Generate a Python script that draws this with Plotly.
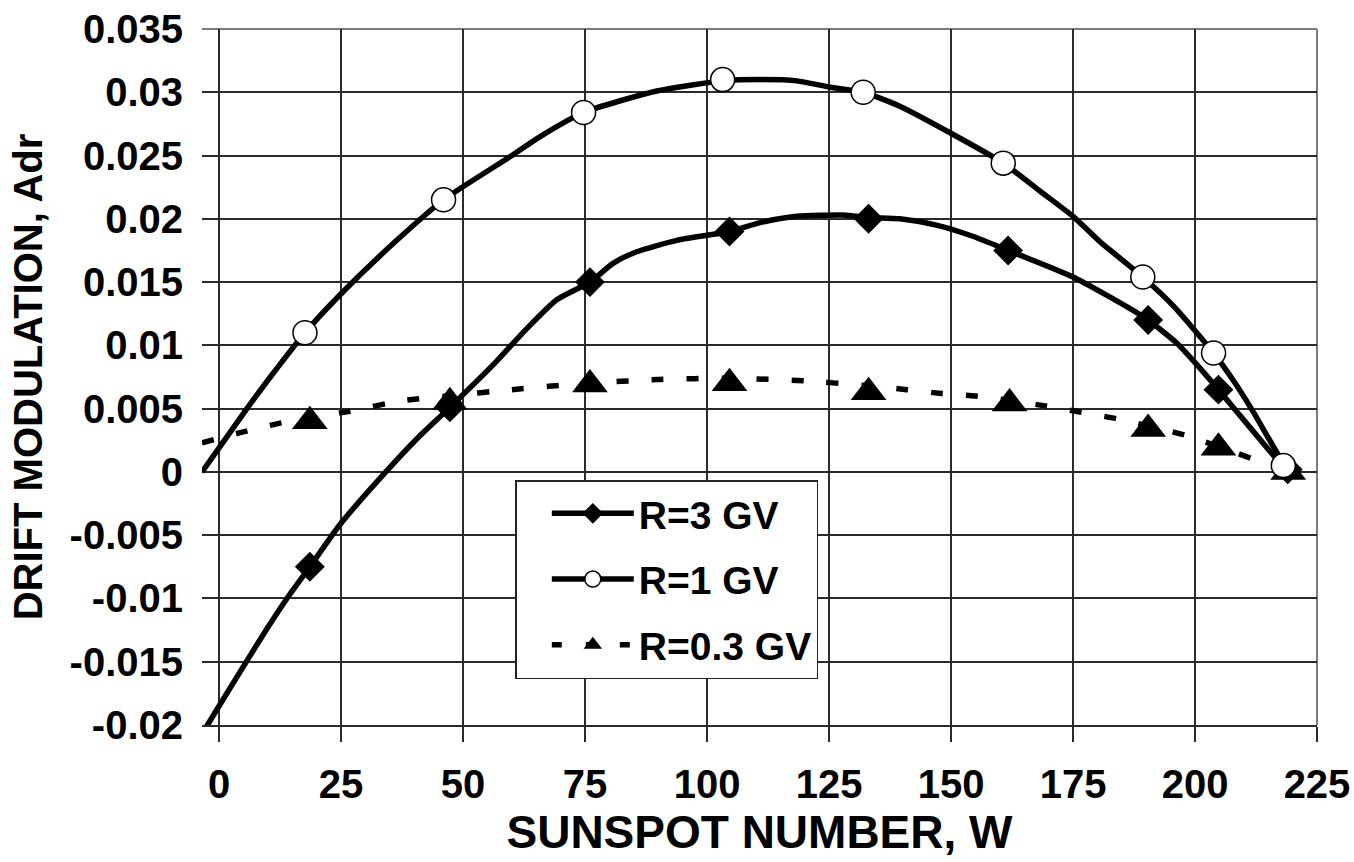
import plotly.graph_objects as go

# ---------------- data ----------------
# marker series
W_R3 = [18.6, 47.3, 76.0, 104.6, 133.1, 161.7, 190.4, 204.8, 219.0]
A_R3 = [-0.0075, 0.0051, 0.0150, 0.0190, 0.0200, 0.0175, 0.0120, 0.0065, 0.0002]

W_R1 = [17.6, 46.0, 74.7, 103.2, 132.0, 160.7, 189.3, 203.8, 218.1]
A_R1 = [0.0110, 0.0215, 0.0284, 0.0310, 0.0300, 0.0244, 0.0154, 0.0094, 0.0005]

W_R03 = [18.6, 47.3, 76.0, 104.6, 133.1, 162.0, 190.4, 204.8, 219.1]
A_R03 = [0.0040, 0.0055, 0.0069, 0.0070, 0.0063, 0.0054, 0.0034, 0.0019, 0.0000]

# curve series
CW_R3 = [-3.5, 0.0, 4.3, 9.8, 13.9, 18.6, 24.9, 33.7, 40.5, 47.3, 57.0, 63.0, 69.2,
         76.0, 80.8, 85.6, 93.8, 104.6, 110.9, 118.4, 127.9, 133.1, 139.5, 147.0,
         154.6, 161.7, 175.0, 186.7, 190.4, 196.2, 201.0, 204.8, 211.3, 217.4, 219.0]
CA_R3 = [-0.0207, -0.0185, -0.0158, -0.0124, -0.0100, -0.0075, -0.0041, -0.0002, 0.0026,
         0.0051, 0.0088, 0.0113, 0.0136, 0.0150, 0.0165, 0.0174, 0.0183, 0.0190, 0.0197,
         0.0202, 0.0203, 0.0201, 0.0200, 0.0195, 0.0186, 0.0175, 0.0154, 0.0129, 0.0120,
         0.0102, 0.0082, 0.0065, 0.0035, 0.0007, 0.0000]

CW_R1 = [-3.5, 0.0, 5.7, 10.5, 17.6, 24.8, 36.4, 46.0, 59.6, 65.8, 74.7, 89.7, 103.2,
         110.9, 118.4, 125.2, 132.0, 139.5, 149.8, 160.7, 168.2, 175.0, 180.5, 189.3,
         195.6, 203.8, 207.9, 212.0, 215.0, 218.5]
CA_R1 = [0.0000, 0.0019, 0.0050, 0.0075, 0.0110, 0.0140, 0.0183, 0.0215, 0.0249, 0.0265,
         0.0284, 0.0301, 0.0309, 0.0310, 0.0309, 0.0304, 0.0300, 0.0289, 0.0268, 0.0244,
         0.0222, 0.0202, 0.0182, 0.0154, 0.0131, 0.0094, 0.0072, 0.0047, 0.0027, 0.0004]

CW_R03 = [-3.5, 4.3, 11.8, 26.8, 37.1, 47.0, 60.0, 75.0, 90.0, 105.0, 120.0, 133.0,
          140.9, 148.0, 155.0, 169.6, 176.8, 184.0, 198.0, 212.0, 219.0]
CA_R03 = [0.0023, 0.0031, 0.0038, 0.0048, 0.0056, 0.0060, 0.0065, 0.0070, 0.0073, 0.0074,
          0.0072, 0.0068, 0.0065, 0.0062, 0.0060, 0.0052, 0.0047, 0.0042, 0.0029, 0.0010,
          0.0000]

X_TICKS = [0, 25, 50, 75, 100, 125, 150, 175, 200, 225]
Y_TICKS = [-0.02, -0.015, -0.01, -0.005, 0, 0.005, 0.01, 0.015, 0.02, 0.025, 0.03, 0.035]
Y_TICK_TEXT = ["-0.02", "-0.015", "-0.01", "-0.005", "0", "0.005", "0.01", "0.015",
               "0.02", "0.025", "0.03", "0.035"]

NAMES = ["R=3 GV", "R=1 GV", "R=0.3 GV"]

# ---------------- styles ----------------
FONT = "Liberation Sans, Arial, Helvetica, sans-serif"
LW = 5.5
DASH = "12px,23px"
GRID = "#2b2b2b"

fig = go.Figure()

# curves
fig.add_trace(go.Scatter(x=CW_R03, y=CA_R03, mode="lines", showlegend=False, hoverinfo="skip",
                         line=dict(color="black", width=LW, dash=DASH, shape="spline", smoothing=0.6)))
fig.add_trace(go.Scatter(x=CW_R3, y=CA_R3, mode="lines", showlegend=False, hoverinfo="skip",
                         line=dict(color="black", width=LW, shape="spline", smoothing=0.6)))
fig.add_trace(go.Scatter(x=CW_R1, y=CA_R1, mode="lines", showlegend=False, hoverinfo="skip",
                         line=dict(color="black", width=LW, shape="spline", smoothing=0.6)))

# markers
m_r3 = dict(symbol="diamond", size=23, color="black", line=dict(width=0))
m_r1 = dict(symbol="circle", size=24, color="white", line=dict(color="black", width=1.5))
m_r03 = dict(symbol="triangle-up", size=31, color="black", line=dict(width=0))

fig.add_trace(go.Scatter(x=W_R3, y=A_R3, mode="markers", marker=m_r3, showlegend=False))
fig.add_trace(go.Scatter(x=W_R03, y=A_R03, mode="markers", marker=m_r03, showlegend=False))
fig.add_trace(go.Scatter(x=W_R1, y=A_R1, mode="markers", marker=m_r1, showlegend=False))

# legend entries
fig.add_trace(go.Scatter(x=[None], y=[None], mode="lines+markers", name=NAMES[0], legendgroup="a",
                         line=dict(color="black", width=LW), marker=m_r3))
fig.add_trace(go.Scatter(x=[None], y=[None], mode="lines+markers", name=NAMES[1], legendgroup="b",
                         line=dict(color="black", width=LW), marker=m_r1))
fig.add_trace(go.Scatter(x=[None], y=[None], mode="lines+markers", name=NAMES[2], legendgroup="c",
                         line=dict(color="black", width=LW, dash="10px,24px"), marker=m_r03))

# plot-area border (top and right, grey)
fig.add_shape(type="line", xref="paper", yref="paper", x0=0, x1=1, y0=1, y1=1,
              line=dict(color="#7a7a7a", width=2), layer="below")
fig.add_shape(type="line", xref="paper", yref="paper", x0=1, x1=1, y0=0, y1=1,
              line=dict(color="#7a7a7a", width=2), layer="below")

fig.update_layout(
    template="none",
    width=1354, height=862,
    margin=dict(l=202, r=37, t=29, b=137, pad=0),
    paper_bgcolor="white", plot_bgcolor="white",
    font=dict(family=FONT, color="black", size=40, weight="bold"),
    showlegend=True,
    legend=dict(x=0.281, y=0.352, xanchor="left", yanchor="top",
                bgcolor="white", bordercolor="#222222", borderwidth=1.5,
                font=dict(family=FONT, size=39, weight="bold", color="black"),
                traceorder="grouped", tracegroupgap=12, itemwidth=82, indentation=30),
    xaxis=dict(range=[-3.5, 225], tickmode="array", tickvals=X_TICKS,
               showgrid=True, gridcolor=GRID, gridwidth=1.5, zeroline=False,
               showline=True, linecolor=GRID, linewidth=1.5,
               ticks="outside", ticklen=15, tickwidth=1.5, tickcolor=GRID,
               tickfont=dict(family=FONT, size=40, weight="bold"),
               ticklabelstandoff=8, automargin=False,
               title=dict(text="SUNSPOT NUMBER, W", standoff=11,
                          font=dict(family=FONT, size=46, weight="bold"))),
    yaxis=dict(range=[-0.02, 0.035], tickmode="array", tickvals=Y_TICKS, ticktext=Y_TICK_TEXT,
               showgrid=True, gridcolor=GRID, gridwidth=1.5, zeroline=False,
               showline=False, ticks="", ticklabelstandoff=18, automargin=False,
               tickfont=dict(family=FONT, size=40, weight="bold"),
               title=dict(text="DRIFT MODULATION, Adr", standoff=14,
                          font=dict(family=FONT, size=40, weight="bold"))),
)

fig.write_html("out.html")
